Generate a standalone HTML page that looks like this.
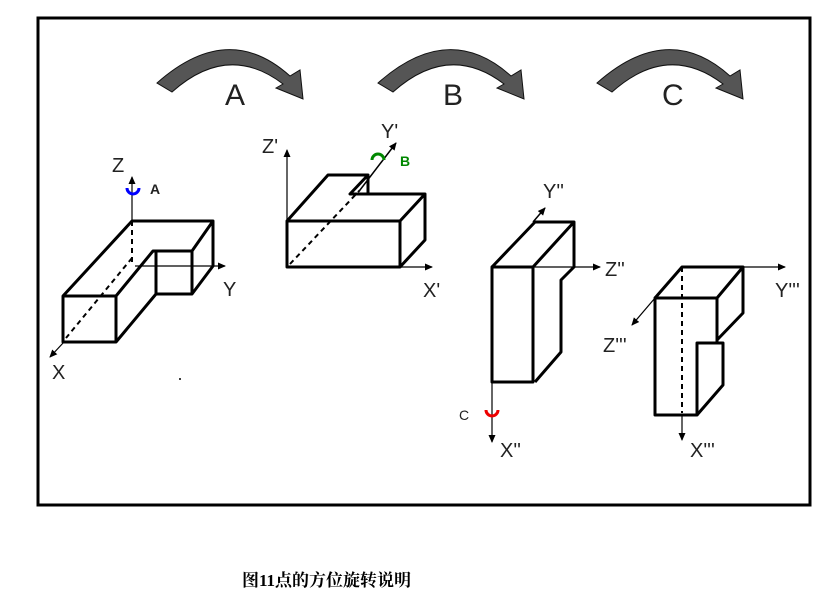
<!DOCTYPE html>
<html><head><meta charset="utf-8"><style>
html,body{margin:0;padding:0;background:#fff;width:831px;height:615px;overflow:hidden}
svg text{font-family:"Liberation Sans",sans-serif}
</style></head><body>
<svg width="831" height="615" viewBox="0 0 831 615">
<defs><marker id="ah" markerWidth="8" markerHeight="8" refX="7" refY="4" orient="auto" markerUnits="userSpaceOnUse"><path d="M0,0.5 L8,4 L0,7.5Z" fill="#000"/></marker></defs>
<rect x="38" y="18" width="772" height="487" fill="none" stroke="#000" stroke-width="3"/>
<g fill="#555" stroke="#111" stroke-width="1">
<path d="M157,83 Q228,20 290,76 L300,70 L303,99 L276,88 L283,84 Q228,42 172,92 Z"/>
<path transform="translate(221,0)" d="M157,83 Q228,20 290,76 L300,70 L303,99 L276,88 L283,84 Q228,42 172,92 Z"/>
<path transform="translate(440,0)" d="M157,83 Q228,20 290,76 L300,70 L303,99 L276,88 L283,84 Q228,42 172,92 Z"/>
</g>
<g font-size="30" fill="#222"><text x="225" y="105">A</text><text x="443" y="105">B</text><text x="662" y="105">C</text></g>

<g fill="none" stroke="#000">
<line x1="132" y1="221" x2="132" y2="177" stroke-width="1.2" marker-end="url(#ah)"/>
<line x1="132" y1="221" x2="132" y2="262" stroke-width="2" stroke-dasharray="5,4"/>
<line x1="132" y1="258" x2="66" y2="338" stroke-width="2" stroke-dasharray="5,4"/>
<line x1="64" y1="342" x2="50" y2="357" stroke-width="1.2" marker-end="url(#ah)"/>
<line x1="135" y1="266" x2="225" y2="266" stroke-width="1.2" marker-end="url(#ah)"/>
<g stroke-width="3" stroke-linejoin="round">
<path d="M63,296 L132,221 L213,221 L213,266 L192,294 L156,294 L116,342 L63,342 Z"/>
<path d="M63,296 L116,296 L116,342 M116,296 L153,251 L192,251 L213,221 M156,251 L156,294 M192,251 L192,294"/>
</g>
<path d="M127,188 a6,6 0 1 0 12,0" stroke="#00f" stroke-width="3"/>
</g>
<text x="112" y="172" font-size="20" fill="#222">Z</text>
<text x="150" y="194" font-size="14" font-weight="bold" fill="#222">A</text>
<text x="223" y="296" font-size="20" fill="#222">Y</text>
<text x="52" y="379" font-size="20" fill="#222">X</text>

<g fill="none" stroke="#000">
<line x1="287" y1="267" x2="287" y2="150" stroke-width="1.2" marker-end="url(#ah)"/>
<line x1="287" y1="267" x2="432" y2="267" stroke-width="1.2" marker-end="url(#ah)"/>
<line x1="290" y1="264" x2="360" y2="190" stroke-width="2" stroke-dasharray="5,4"/>
<line x1="360" y1="190" x2="396" y2="143" stroke-width="1.5" marker-end="url(#ah)"/>
<g stroke-width="3" stroke-linejoin="round">
<path d="M287,221 L400,221 L400,267 L287,267 Z"/>
<path d="M287,221 L328,175 L368,175 L368,194 L425,194 L400,221 M425,194 L425,240 L400,267 M368,175 L350,194 L368,194"/>
</g>
<path d="M372,160 a6,6 0 1 1 12,0" stroke="#080" stroke-width="3"/>
</g>
<text x="262" y="153" font-size="20" fill="#222">Z'</text>
<text x="381" y="138" font-size="20" fill="#222">Y'</text>
<text x="400" y="166" font-size="14" font-weight="bold" fill="#080">B</text>
<text x="423" y="297" font-size="20" fill="#222">X'</text>

<g fill="none" stroke="#000">
<line x1="533" y1="222" x2="545" y2="208" stroke-width="1.5" marker-end="url(#ah)"/>
<line x1="533" y1="267" x2="600" y2="267" stroke-width="1.2" marker-end="url(#ah)"/>
<line x1="492" y1="382" x2="492" y2="442" stroke-width="1.2" marker-end="url(#ah)"/>
<g stroke-width="3" stroke-linejoin="round">
<path d="M492,267 L533,267 L533,382 L492,382 Z"/>
<path d="M492,267 L535,222 L574,222 L574,267 L561,280 L561,352 L535,382 M533,267 L574,222"/>
</g>
<path d="M486,410 a6,6 0 1 0 12,0" stroke="#e00" stroke-width="3"/>
</g>
<text x="543" y="198" font-size="20" fill="#222">Y''</text>
<text x="605" y="276" font-size="20" fill="#222">Z''</text>
<text x="459" y="420" font-size="14" fill="#222">C</text>
<text x="500" y="457" font-size="20" fill="#222">X''</text>

<g fill="none" stroke="#000">
<line x1="743" y1="267" x2="785" y2="267" stroke-width="1.2" marker-end="url(#ah)"/>
<line x1="655" y1="298" x2="632" y2="325" stroke-width="1.2" marker-end="url(#ah)"/>
<line x1="682" y1="267" x2="682" y2="413" stroke-width="2" stroke-dasharray="5,4"/>
<line x1="682" y1="415" x2="682" y2="440" stroke-width="1.2" marker-end="url(#ah)"/>
<g stroke-width="3" stroke-linejoin="round">
<path d="M655,298 L717,298 L717,343 L697,343 L697,415 L655,415 Z"/>
<path d="M655,298 L682,267 L743,267 L717,298 M743,267 L743,313 L717,340 M697,343 L723,343 L723,385 L697,415"/>
</g>
</g>
<text x="775" y="297" font-size="20" fill="#222">Y'''</text>
<text x="603" y="352" font-size="20" fill="#222">Z'''</text>
<text x="690" y="457" font-size="20" fill="#222">X'''</text>
<circle cx="180" cy="379" r="1" fill="#000"/>
<text x="242" y="586" font-size="17" font-weight="bold" fill="#000" style="font-family:'Liberation Serif','Noto Serif CJK SC',serif">图11点的方位旋转说明</text>
</svg>
</body></html>
